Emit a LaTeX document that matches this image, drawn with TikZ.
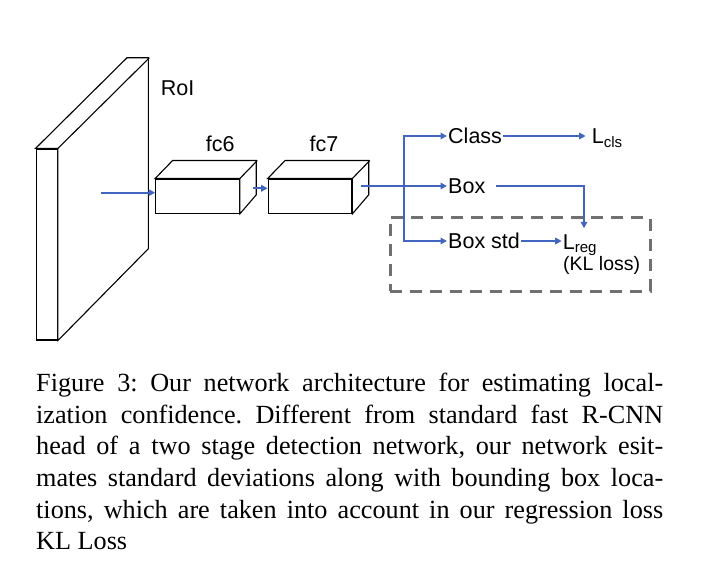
\documentclass[tikz,border=0pt]{standalone}
\usepackage{fontspec}
\setmainfont{Liberation Serif}
\newfontfamily\labelfont{Liberation Sans}
\usetikzlibrary{arrows.meta,calc}
\definecolor{flowblue}{RGB}{66,102,192}
\definecolor{boxgray}{RGB}{112,112,112}
\frenchspacing

\begin{document}
\begin{tikzpicture}[x=1pt, y=-1pt,
    layer/.style={draw=black, line width=1.1pt, fill=white, inner sep=0pt},
    lbl/.style={font=\labelfont\fontsize{21.5pt}{24pt}\selectfont, inner sep=1pt},
    flow/.style={draw=flowblue, line width=2pt, -{Triangle[length=6.5pt,width=6.5pt]}}]
    \useasboundingbox (0,0) rectangle (728,580);
    % RoI feature slab
    \node[layer, minimum width=21.3pt, minimum height=191pt] (roi) at (46.7,244.5) {};
    \draw[layer] (roi.north west) -- ++(91.5,-90.7) -- ++(21.3,0) -- ++(0,191)
        -- (roi.south east) -- (roi.north east) -- cycle;
    \draw[layer] (roi.north east) -- ++(91.5,-90.7);
    \node[lbl, anchor=base west] (roilbl) at (159.7,95.7) {RoI};
    % fc layers
    \node[layer, minimum width=83.6pt, minimum height=34.3pt] (fc6) at (197.5,196.2) {};
    \node[layer, minimum width=83.6pt, minimum height=34.3pt] (fc7) at (310,196.2) {};
    \foreach \n in {fc6,fc7} {
        \draw[layer] (\n.north west) -- ++(17.5,-18) -- ++(83.6,0) -- ++(0,34.3)
            -- (\n.south east) -- (\n.north east) -- cycle;
        \draw[layer] (\n.north east) -- ++(17.5,-18);
    }
    \node[lbl, anchor=base] (fc6lbl) at (220.3,151.7) {fc6};
    \node[lbl, anchor=base] (fc7lbl) at (324,151.7) {fc7};
    % KL loss group
    \node[draw=boxgray, line width=3pt, dash pattern=on 12pt off 8pt,
        minimum width=260pt, minimum height=73.3pt] (klbox) at (520,254.4) {};
    % outputs
    \node[lbl, anchor=west] (cls) at (447,136) {Class};
    \node[lbl, anchor=west] (box) at (447,186) {Box};
    \node[lbl, anchor=west] (std) at (447,241) {Box std};
    \node[lbl, anchor=base west] (lcls) at (590.7,143.3) {L\textsubscript{cls}};
    \node[lbl, anchor=base west] (lreg) at (561.7,249.3) {L\textsubscript{reg}};
    \node[lbl, font=\labelfont\fontsize{19.5pt}{22pt}\selectfont, anchor=base west]
        (kl) at (562,270.7) {(KL loss)};
    % connections
    \coordinate (feat) at (101,192.7);
    \draw[flow] (feat) -- (feat -| fc6.west);
    \coordinate (fc6out) at ($(fc6.east)+(12.7,-7.9)$);
    \draw[flow] (fc6out) -- (fc6out -| fc7.west);
    \coordinate (fc7out) at ($(fc7.east)+(9,-10.2)$);
    \coordinate (split) at (404,186);
    \draw[flow] (fc7out) -- (box.west);
    \draw[flow] (split) |- (cls.west);
    \draw[flow] (split) |- (std.west);
    \draw[flow, shorten >=5pt] (cls.east) -- (cls.east -| lcls.west);
    \draw[flow, shorten >=5pt] ([xshift=10pt]box.east) -| ([xshift=4pt]lreg.north);
    \draw[flow] (std.east) -- (std.east -| lreg.west);
    % caption
    \node[anchor=base west, inner sep=0pt] (caption) at (36,391.7) {\parbox[t]{627pt}{%
        \fontsize{26.2pt}{31.6pt}\selectfont
        \makebox[627pt][s]{Figure 3: Our network architecture for estimating local-}\\
        \makebox[627pt][s]{ization confidence. Different from standard fast R-CNN}\\
        \makebox[627pt][s]{head of a two stage detection network, our network esit-}\\
        \makebox[627pt][s]{mates standard deviations along with bounding box loca-}\\
        \makebox[627pt][s]{tions, which are taken into account in our regression loss}\\
        KL Loss}};
\end{tikzpicture}
\end{document}
